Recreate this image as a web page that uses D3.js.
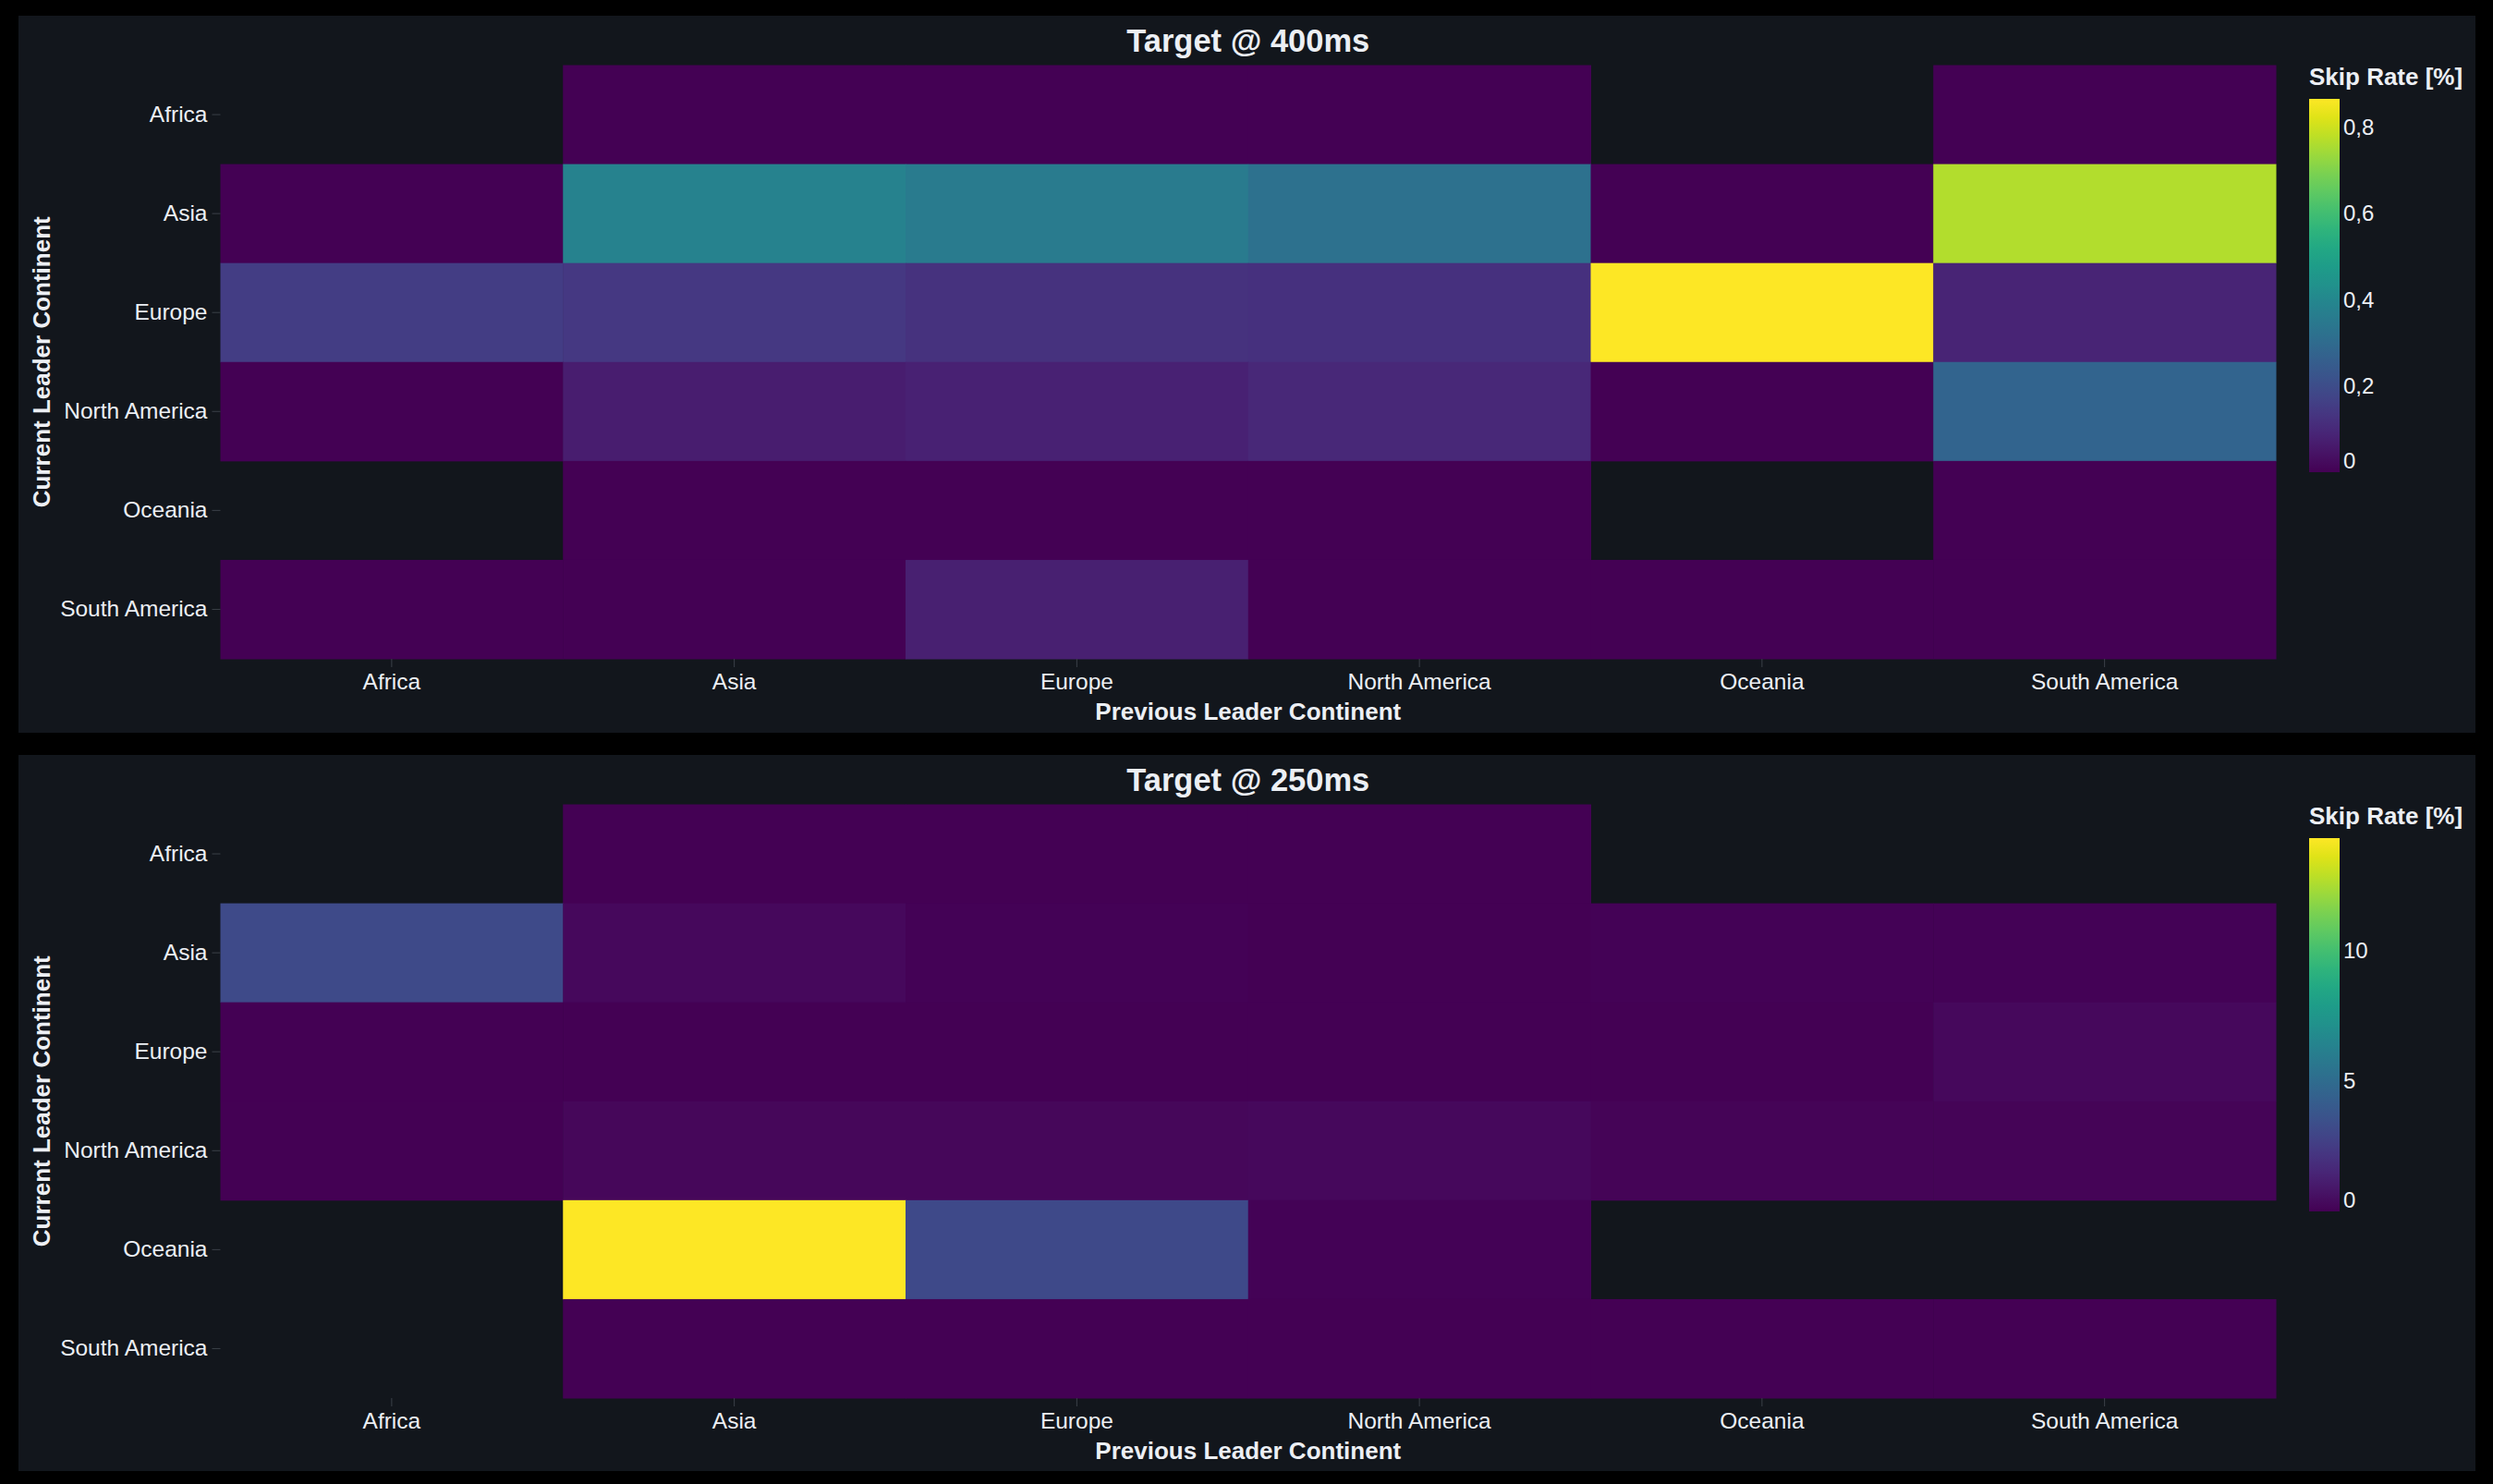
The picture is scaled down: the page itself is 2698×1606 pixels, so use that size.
<!DOCTYPE html>
<html lang="en">
<head>
    <meta charset="utf-8" />
    <title>Skip rate heatmaps</title>
    <script src="https://cdn.jsdelivr.net/npm/d3@7"></script>
    <style>
        body {
            margin: 0;
            background-color: #000;
        }

        text {
            font-family: "Liberation Sans", Arial, sans-serif;
            fill: #eceff4;
        }

        .bold {
            font-weight: bold;
        }
    </style>
</head>
<body>
    <div id="chart"></div>
    <script>
        // categories (rows = current leader, columns = previous leader)
        var continents = ["Africa", "Asia", "Europe", "North America", "Oceania", "South America"];

        // skip rate [%], target @ 400ms, null = no data
        var skip400 = [
            [null, 0.0, 0.0, 0.0, null, 0.0],
            [0.0, 0.385, 0.355, 0.32, 0.0, 0.765],
            [0.155, 0.14, 0.125, 0.12, 0.865, 0.085],
            [0.0, 0.07, 0.08, 0.095, 0.0, 0.275],
            [null, 0.0, 0.0, 0.0, null, 0.0],
            [0.0, 0.0, 0.075, 0.0, 0.0, 0.0]
        ];

        // skip rate [%], target @ 250ms
        var skip250 = [
            [null, 0.05, 0.05, 0.05, null, null],
            [3.2, 0.3, 0.08, 0.05, 0.08, 0.08],
            [0.05, 0.05, 0.05, 0.05, 0.05, 0.3],
            [0.05, 0.25, 0.25, 0.28, 0.12, 0.12],
            [null, 14.3, 3.15, 0.1, null, null],
            [null, 0.05, 0.05, 0.05, 0.05, 0.05]
        ];

        var ticks400 = [0, 0.2, 0.4, 0.6, 0.8];
        var ticks250 = [0, 5, 10];

        var titles = ["Target @ 400ms", "Target @ 250ms"];

        var width = 2698, height = 1606;

        var svg = d3.select("#chart")
            .append("svg")
            .attr("width", width)
            .attr("height", height);

        // comma as decimal separator, like the original
        var fmt = d3.formatLocale({ decimal: ",", thousands: ".", grouping: [3], currency: ["", ""] }).format(".1~f");

        // one gradient reused by both colorbars
        var grad = svg.append("defs").append("linearGradient")
            .attr("id", "viridis")
            .attr("x1", 0).attr("y1", 1).attr("x2", 0).attr("y2", 0);
        d3.range(0, 1.0001, 0.05).forEach(function (t) {
            grad.append("stop")
                .attr("offset", t)
                .attr("stop-color", d3.interpolateViridis(t));
        });

        function drawPanel(top, panelH, title, z, cbTicks) {
            var g = svg.append("g").attr("transform", "translate(0," + top + ")");

            g.append("rect")
                .attr("x", 20).attr("y", 0)
                .attr("width", 2659).attr("height", panelH)
                .attr("fill", "#12161c");

            var x = d3.scaleBand().domain(continents).range([238.5, 2463]);
            var y = d3.scaleBand().domain(continents).range([53.5, 696]);

            var zmax = d3.max(z, function (r) { return d3.max(r); });
            var color = d3.scaleSequential(d3.interpolateViridis).domain([0, zmax]);

            var cells = [];
            z.forEach(function (row, i) {
                row.forEach(function (v, j) {
                    if (v !== null) cells.push({ row: continents[i], col: continents[j], v: v });
                });
            });

            g.selectAll(".cell")
                .data(cells)
                .enter()
                .append("rect")
                .attr("class", "cell")
                .attr("x", function (d) { return x(d.col); })
                .attr("y", function (d) { return y(d.row); })
                .attr("width", x.bandwidth() + 0.5)
                .attr("height", y.bandwidth() + 0.5)
                .attr("fill", function (d) { return color(d.v); });

            // axes
            var xAxis = g.append("g")
                .attr("transform", "translate(0," + y.range()[1] + ")")
                .call(d3.axisBottom(x).tickSize(9).tickPadding(7));
            var yAxis = g.append("g")
                .attr("transform", "translate(" + x.range()[0] + ",0)")
                .call(d3.axisLeft(y).tickSize(9).tickPadding(5));
            [xAxis, yAxis].forEach(function (a) {
                a.select(".domain").remove();
                a.selectAll(".tick line").attr("stroke", "#3b4048");
                a.selectAll(".tick text")
                    .attr("fill", "#eceff4")
                    .style("font-size", "24.5px")
                    .style("font-family", "'Liberation Sans', Arial, sans-serif");
            });

            // titles
            g.append("text")
                .attr("class", "bold")
                .attr("x", (x.range()[0] + x.range()[1]) / 2)
                .attr("y", 39)
                .attr("text-anchor", "middle")
                .style("font-size", "34.5px")
                .text(title);

            g.append("text")
                .attr("class", "bold")
                .attr("x", (x.range()[0] + x.range()[1]) / 2)
                .attr("y", 762)
                .attr("text-anchor", "middle")
                .style("font-size", "26px")
                .text("Previous Leader Continent");

            g.append("text")
                .attr("class", "bold")
                .attr("transform", "translate(54," + (y.range()[0] + y.range()[1]) / 2 + ") rotate(-90)")
                .attr("text-anchor", "middle")
                .style("font-size", "26px")
                .text("Current Leader Continent");

            // colorbar
            var cbTop = 90, cbBottom = 494;
            var cb = d3.scaleLinear().domain([0, zmax]).range([cbBottom, cbTop]);

            g.append("text")
                .attr("class", "bold")
                .attr("x", 2499)
                .attr("y", 75)
                .style("font-size", "26px")
                .text("Skip Rate [%]");

            g.append("rect")
                .attr("x", 2499).attr("y", cbTop)
                .attr("width", 33).attr("height", cbBottom - cbTop)
                .attr("fill", "url(#viridis)");

            g.selectAll(".cbtick")
                .data(cbTicks)
                .enter()
                .append("text")
                .attr("class", "cbtick")
                .attr("x", 2536)
                .attr("y", function (d) { return Math.min(cb(d), cbBottom - 12); })
                .attr("dy", "0.35em")
                .style("font-size", "24px")
                .text(function (d) { return fmt(d); });
        }

        drawPanel(17, 776, titles[0], skip400, ticks400);
        drawPanel(817, 775, titles[1], skip250, ticks250);
    </script>
</body>
</html>
